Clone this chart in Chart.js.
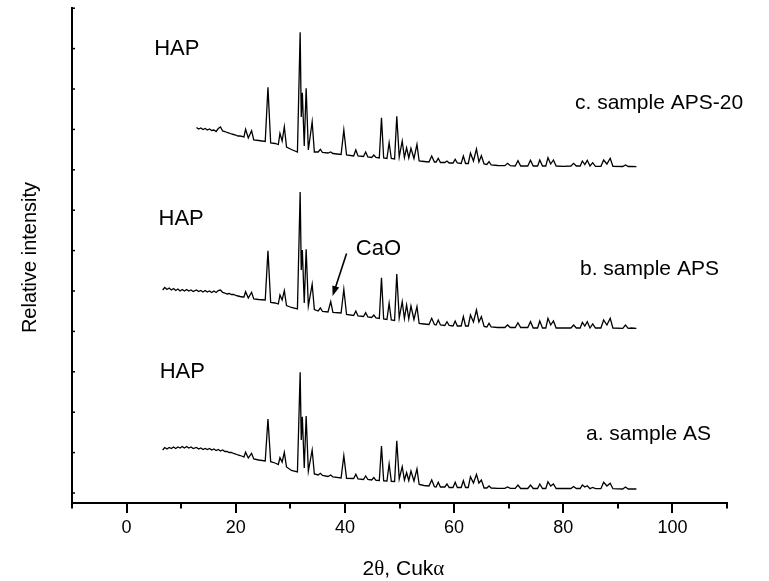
<!DOCTYPE html>
<html>
<head>
<meta charset="utf-8">
<script src="https://cdn.jsdelivr.net/npm/chart.js@4.4.1/dist/chart.umd.min.js"></script>
<style>
  html, body { margin: 0; padding: 0; background: #fff; }
  canvas { display: block; }
</style>
</head>
<body>
<canvas id="c" width="769" height="581"></canvas>
<script>
// ---- data (2θ in degrees, intensity in arbitrary stacked units) ----
const twoTheta = [
  6.6,7.0,7.4,7.8,8.2,8.6,9.0,9.4,9.8,10.2,10.6,11.0,11.4,11.8,12.2,
  12.8,13.2,13.6,14.0,14.4,14.8,15.2,15.6,16.0,16.4,16.8,17.2,17.6,18.0,18.4,18.8,19.2,19.6,20.0,20.4,20.8,21.3,
  21.5,21.8,22.3,22.9,23.3,24.2,25.4,25.9,26.4,27.2,
  27.8,28.1,28.5,28.9,29.3,30.2,31.3,31.8,32.0,32.2,
  32.55,32.9,33.3,34.0,34.4,35.1,35.5,35.9,36.9,37.4,
  37.8,39.3,39.8,40.3,41.6,42.0,42.4,43.4,43.8,44.2,
  44.9,45.3,45.7,46.3,46.7,47.1,47.7,48.1,48.5,49.1,
  49.5,49.95,50.5,50.9,51.3,51.7,52.1,52.65,53.2,53.6,
  54.5,55.4,55.9,56.4,56.7,57.1,57.5,58.3,58.7,59.1,
  59.8,60.2,60.6,61.3,61.7,62.1,62.6,63.0,63.55,64.1,
  64.55,65.0,65.5,66.0,66.4,66.8,68.0,69.3,69.8,70.3,
  71.2,71.7,72.2,73.5,74.0,74.5,75.3,75.7,76.2,76.8,
  77.2,77.7,78.2,78.7,80.0,81.4,81.9,82.4,83.1,83.5,
  83.95,84.4,84.9,85.4,85.9,86.9,87.4,88.0,88.6,89.1,
  90.9,91.4,91.9,92.5,93.4
];

// c. sample APS-20 (top trace)
const sampleAPS20 = [
  null,null,null,null,null,null,null,null,null,null,null,null,null,null,null,
  365.5,364,365,363.5,364.5,363,364,362.5,363,361.5,364.5,366,362,361.5,360.5,360,359,358.5,358,357,357,356.5,
  356,363.7,355,362.3,353,352.5,351.5,405.7,350,349.5,
  348.5,359.7,352,366.3,346,343.5,341,460.7,376,400.3,
  347,404.7,343,371.3,341,341,343.7,340.5,340,341,
  339.5,338.5,363,338,337,343,337,336.5,341,336,
  335.5,338,335.5,335,375.3,335,334.5,350.3,334.5,334,
  376.7,336,352,335.5,345.3,335,344.7,334.5,348.7,332,
  331.5,331,337,331,331,334.7,330.5,330.5,332,330,
  330,333.7,330,329.5,337,329.5,329.5,340,332,344,
  331,337.3,329,328.5,331.3,328,327.5,327.3,329.7,327.3,
  327,332.3,327,327,332.7,327,327,333,327,327,
  335.3,329,333,327,326.7,327,329.7,327,327,332,
  328.5,332.7,327,330.3,326.7,326.7,333,329,334.7,326.7,
  326.5,328,326.5,326.7,326.3
];

// b. sample APS (middle trace)
const sampleAPS = [
  203,205.5,203.5,205,203,204.5,202.5,204,202,203.5,202,203.5,202,203,201.5,
  203,201.5,202.5,201,202.5,201,202,200.5,202,200.5,202.5,203,200.5,200,199,199.5,198.5,198.5,197.5,197,196.5,196,
  196,201.3,195,200.7,194,193.5,193,242.3,190.5,190,
  189,198,193,202.3,187.5,185.5,184,301,223,243,
  190,243.7,187,208.7,183.5,182,185,181.5,181,191.3,
  180.5,180,203.7,178.5,177.5,182,177,176.5,180.3,176,
  175.5,178,175,174.5,215.3,174,173.5,189.7,173,172.5,
  219,175,191.3,174.5,188,174,187,173.5,186.3,169.5,
  169,168.5,174.7,168.5,168,173,168,167.5,171.3,167.5,
  167,172,167,167,176.3,167,167,178,171,183,
  171,176.3,166.5,166,169.7,166,165.5,165.5,168,165.5,
  165.5,170.3,165.5,165.5,171.3,165,165,172,165,165,
  174.7,168,172,165,165,165,168,165,165,170.7,
  167,171.3,165,169,165,165,173,168,174.7,165,
  164.7,168,164.7,165,164.7
];

// a. sample AS (bottom trace)
const sampleAS = [
  43,45.5,44,45.5,44.5,46,44.5,46,45,46.5,45,46.5,45,46,44.5,
  45.5,44,45,43.5,44.5,43.5,44.5,43,44,42.5,43.5,42,43,41.5,41.5,40.5,40.5,39.5,39,38,37.5,36.5,
  36,40.7,35,39.7,34,33,32,74,31.3,30,
  28.5,35.3,31,40.7,26,22.5,21,120.7,53,76.3,
  25,77,22,43,19,18,19.7,17.5,16.5,18,
  16,15,37.3,14.7,14.5,18.7,14,13.5,17,13.5,
  13,15.5,12.7,12.5,47,12.2,12,29,11.7,11.5,
  52.3,14,26.3,13,20.3,12.5,22,12,24,8.5,
  7.5,7,13,6.3,6,10.7,6,6,9,5.5,
  5.5,10.7,5.5,5.5,12.3,5.5,5.5,16.3,10,18.7,
  10,13,5,5,7,5,4.7,4.7,6,4.7,
  4.7,8,4.5,4.5,8,4.5,4.5,9,4.5,4.5,
  11.3,7,9,4.5,4.5,4.5,6.5,4.5,4.5,8,
  6,7.3,4.3,5.5,4.3,4.3,10.7,7,9.7,4.3,
  4,6,4,4.2,4
];

const xTicks = [-10,0,10,20,30,40,50,60,70,80,90,100,110];
const xTickLabels = ['', '0', '', '20', '', '40', '', '60', '', '80', '', '100', ''];
const yTicks = [0,40.4,80.8,121.2,161.6,202,242.4,282.8,323.2,363.6,404,444.4,484.8];

const seriesNames = ['a. sample AS', 'b. sample APS', 'c. sample APS-20'];

// text notes placed in data coordinates
const notes = [
  { text: 'HAP', x: 9.2, y: 438, size: 22, align: 'center' },
  { text: 'HAP', x: 10.0, y: 268, size: 22, align: 'center' },
  { text: 'HAP', x: 10.2, y: 115, size: 22, align: 'center' },
  { text: seriesNames[2], x: 82.15, y: 384, size: 21, align: 'left' },
  { text: seriesNames[1], x: 83.07, y: 218, size: 21, align: 'left' },
  { text: seriesNames[0], x: 84.17, y: 53, size: 21, align: 'left' },
  { text: 'CaO', x: 42.0, y: 238, size: 22, align: 'left' }
];
const arrowFrom = { x: 40.3, y: 239.5 };
const arrowTo = { x: 37.75, y: 197 };

const SANS = '"Liberation Sans", Arial, Helvetica, sans-serif';
const SERIF = '"Liberation Serif", "Times New Roman", serif';

function toPoints(arr) {
  const pts = [];
  for (let i = 0; i < twoTheta.length; i++) {
    if (arr[i] !== null) pts.push({ x: twoTheta[i], y: arr[i] });
  }
  return pts;
}

const decor = {
  id: 'decor',
  afterDraw(chart) {
    const ctx = chart.ctx;
    const xs = chart.scales.x, ys = chart.scales.y;
    const area = chart.chartArea;
    ctx.save();
    ctx.strokeStyle = '#000';
    ctx.fillStyle = '#000';
    // x ticks (outward)
    ctx.lineWidth = 2;
    xTicks.forEach(v => {
      const px = Math.round(xs.getPixelForValue(v));
      const len = (v % 20 === 0) ? 10 : 5.5;
      ctx.beginPath();
      ctx.moveTo(px, area.bottom);
      ctx.lineTo(px, area.bottom + len);
      ctx.stroke();
    });
    // y ticks (inward, short)
    ctx.lineWidth = 1.5;
    yTicks.forEach(v => {
      const py = ys.getPixelForValue(v);
      ctx.beginPath();
      ctx.moveTo(area.left - 1, py);
      ctx.lineTo(area.left + 3, py);
      ctx.stroke();
    });
    // notes
    ctx.textBaseline = 'alphabetic';
    notes.forEach(n => {
      ctx.font = n.size + 'px ' + SANS;
      ctx.textAlign = n.align;
      ctx.fillText(n.text, xs.getPixelForValue(n.x), ys.getPixelForValue(n.y));
    });
    // arrow
    const x1 = xs.getPixelForValue(arrowFrom.x), y1 = ys.getPixelForValue(arrowFrom.y);
    const x2 = xs.getPixelForValue(arrowTo.x), y2 = ys.getPixelForValue(arrowTo.y);
    const ang = Math.atan2(y2 - y1, x2 - x1);
    const hl = 10, hw = 3.6;
    ctx.lineWidth = 1.6;
    ctx.beginPath();
    ctx.moveTo(x1, y1);
    ctx.lineTo(x2 - Math.cos(ang) * hl * 0.8, y2 - Math.sin(ang) * hl * 0.8);
    ctx.stroke();
    ctx.beginPath();
    ctx.moveTo(x2, y2);
    ctx.lineTo(x2 - Math.cos(ang) * hl + Math.sin(ang) * hw, y2 - Math.sin(ang) * hl - Math.cos(ang) * hw);
    ctx.lineTo(x2 - Math.cos(ang) * hl - Math.sin(ang) * hw, y2 - Math.sin(ang) * hl + Math.cos(ang) * hw);
    ctx.closePath();
    ctx.fill();
    // y axis title
    ctx.save();
    ctx.translate(30, (area.top + area.bottom) / 2 + 2);
    ctx.rotate(-Math.PI / 2);
    ctx.font = '20px ' + SANS;
    ctx.textAlign = 'center';
    ctx.textBaseline = 'middle';
    ctx.fillText('Relative intensity', 0, 0);
    ctx.restore();
    // x axis title with Greek letters in a serif face
    const runs = [['2', SANS], ['\u03B8', SERIF], [', Cuk', SANS], ['\u03B1', SERIF]];
    const fs = 21;
    let total = 0;
    runs.forEach(r => { ctx.font = fs + 'px ' + r[1]; total += ctx.measureText(r[0]).width; });
    let cx = (area.left + area.right) / 2 + 4 - total / 2;
    ctx.textAlign = 'left';
    ctx.textBaseline = 'alphabetic';
    runs.forEach(r => {
      ctx.font = fs + 'px ' + r[1];
      ctx.fillText(r[0], cx, 575);
      cx += ctx.measureText(r[0]).width;
    });
    ctx.restore();
  }
};

new Chart(document.getElementById('c'), {
  type: 'scatter',
  data: {
    datasets: [
      { label: seriesNames[0], data: toPoints(sampleAS) },
      { label: seriesNames[1], data: toPoints(sampleAPS) },
      { label: seriesNames[2], data: toPoints(sampleAPS20) }
    ].map(d => Object.assign(d, {
      showLine: true, borderColor: '#000', borderWidth: 1.3,
      pointRadius: 0, pointHoverRadius: 0, tension: 0, fill: false
    }))
  },
  options: {
    responsive: false,
    animation: false,
    events: [],
    layout: { padding: { left: 72, right: 42, top: 8, bottom: 0 } },
    plugins: { legend: { display: false }, tooltip: { enabled: false } },
    scales: {
      x: {
        type: 'linear', min: -10, max: 110,
        afterBuildTicks: s => { s.ticks = xTicks.map(v => ({ value: v })); },
        afterFit: s => { s.height = 78; },
        ticks: {
          autoSkip: false, maxRotation: 0, padding: 14, color: '#000',
          font: { family: SANS, size: 18 },
          callback: (v) => xTickLabels[xTicks.indexOf(v)]
        },
        grid: { display: false, drawTicks: false },
        border: { display: true, color: '#000', width: 2 }
      },
      y: {
        type: 'linear', min: -10, max: 485,
        afterBuildTicks: s => { s.ticks = yTicks.map(v => ({ value: v })); },
        afterFit: s => { s.width = 0; },
        ticks: { display: false },
        grid: { display: false, drawTicks: false },
        border: { display: true, color: '#000', width: 2 }
      }
    }
  },
  plugins: [decor]
});
</script>
</body>
</html>
